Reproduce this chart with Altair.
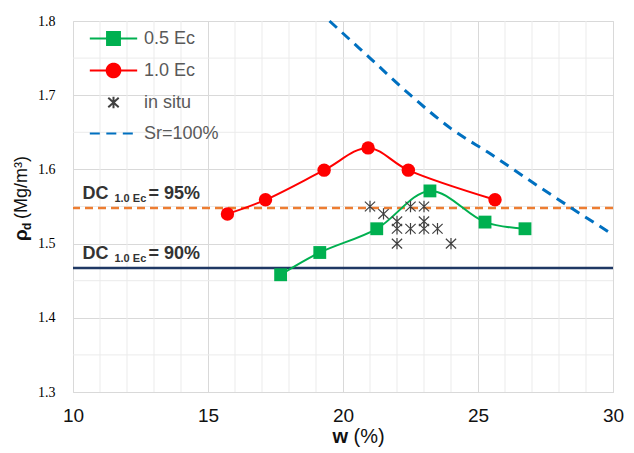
import altair as alt
import pandas as pd

# ---------------- data ----------------
w_05 = [17.69, 19.14, 21.25, 23.22, 25.26, 26.74]
rho_05 = [1.458, 1.488, 1.520, 1.571, 1.529, 1.520]

w_10 = [15.72, 17.13, 19.30, 20.93, 22.42, 25.63]
rho_10 = [1.540, 1.559, 1.599, 1.629, 1.599, 1.559]

w_situ = [21.0, 21.5, 22.0, 22.0, 22.0, 22.5, 22.5, 23.0, 23.0, 23.0, 23.5, 24.0]
rho_situ = [1.55, 1.54, 1.53, 1.52, 1.50, 1.55, 1.52, 1.55, 1.53, 1.52, 1.52, 1.50]

w_sr = [19.5, 21.0, 22.5, 24.0, 25.5, 27.0, 28.5, 30.0]
rho_sr = [1.800, 1.750, 1.700, 1.655, 1.620, 1.583, 1.547, 1.512]

dc_values = [1.548, 1.467]
dc_pct = ["= 95%", "= 90%"]
dc_main = "DC"
dc_sub = "1.0 Ec"

series_names = ["0.5 Ec", "1.0 Ec", "in situ", "Sr=100%"]

x_ticks = [10, 15, 20, 25, 30]
y_ticks = [1.3, 1.4, 1.5, 1.6, 1.7, 1.8]
x_minor = [11, 12, 13, 14, 16, 17, 18, 19, 21, 22, 23, 24, 26, 27, 28, 29]
y_minor = [1.35, 1.45, 1.55, 1.65, 1.75]

x_title_main = "w"
x_title_unit = "(%)"
y_title_main = "ρ"
y_title_sub = "d"
y_title_unit = "(Mg/m³)"

# ---------------- styling ----------------
W, H = 540, 371
GREEN = "#00B050"
RED = "#FF0000"
GRAY = "#404040"
BLUE = "#0070C0"
ORANGE = "#ED7D31"
NAVY = "#1F3864"
ASTER = "M-0.9,-0.85L0.9,0.85M-0.9,0.85L0.9,-0.85M0,-1L0,1"

xs = alt.Scale(domain=[10, 30], nice=False, zero=False)
ys = alt.Scale(domain=[1.3, 1.8], nice=False, zero=False)
x_axis = alt.Axis(values=x_ticks, grid=True, gridColor="#d9d9d9", ticks=False, domain=False,
                  labelFont="Liberation Sans", labelFontSize=19, labelColor="#111111",
                  labelPadding=14, labelFlush=False, title=None)
y_axis = alt.Axis(values=y_ticks, grid=True, gridColor="#d9d9d9", ticks=False, domain=False,
                  labelFont="Liberation Serif", labelFontSize=14, labelColor="#000000",
                  labelPadding=18, format=".1f", title=None)


def X(f):
    return alt.X(f, type="quantitative", scale=xs, axis=x_axis)


def Y(f):
    return alt.Y(f, type="quantitative", scale=ys, axis=y_axis)


df05 = pd.DataFrame({"w": w_05, "rho": rho_05})
df10 = pd.DataFrame({"w": w_10, "rho": rho_10})
dfs = pd.DataFrame({"w": w_situ, "rho": rho_situ})
dfsr = pd.DataFrame({"w": w_sr, "rho": rho_sr})
dfdc = pd.DataFrame({"dc": dc_values, "pct": dc_pct, "main": [dc_main] * 2, "sub": [dc_sub] * 2})
dfxm = pd.DataFrame({"w": x_minor})
dfym = pd.DataFrame({"rho": y_minor})

grid_x = alt.Chart(dfxm).mark_rule(color="#ebebeb", strokeWidth=1).encode(x=X("w"))
grid_y = alt.Chart(dfym).mark_rule(color="#ebebeb", strokeWidth=1).encode(y=Y("rho"))

dc95 = alt.Chart(dfdc.iloc[[0]]).mark_rule(color=ORANGE, strokeWidth=2.5, strokeDash=[8, 5]).encode(y=Y("dc"))
dc90 = alt.Chart(dfdc.iloc[[1]]).mark_rule(color=NAVY, strokeWidth=2.5).encode(y=Y("dc"))

sr_line = alt.Chart(dfsr).mark_line(color=BLUE, strokeWidth=3, strokeDash=[10, 7],
                                     interpolate="monotone").encode(x=X("w"), y=Y("rho"))

l05 = alt.Chart(df05).mark_line(color=GREEN, strokeWidth=2, interpolate="catmull-rom").encode(x=X("w"), y=Y("rho"))
p05 = alt.Chart(df05).mark_point(shape="square", filled=True, color=GREEN, size=165, opacity=1).encode(x=X("w"), y=Y("rho"))
l10 = alt.Chart(df10).mark_line(color=RED, strokeWidth=2, interpolate="catmull-rom").encode(x=X("w"), y=Y("rho"))
p10 = alt.Chart(df10).mark_point(shape="circle", filled=True, color=RED, size=180, opacity=1).encode(x=X("w"), y=Y("rho"))
psitu = alt.Chart(dfs).mark_point(shape=ASTER, filled=False, color=GRAY, size=130, strokeWidth=1.2,
                                  opacity=1).encode(x=X("w"), y=Y("rho"))

txt_common = dict(font="Liberation Sans", fontWeight="bold", color="#333333", align="left", baseline="alphabetic")
t_main = alt.Chart(dfdc).mark_text(fontSize=18, dy=-9, **txt_common).encode(
    x=alt.X(datum=10.35, scale=xs, axis=x_axis), y=Y("dc"), text="main:N")
t_sub = alt.Chart(dfdc).mark_text(fontSize=11, dx=32, dy=-6, **txt_common).encode(
    x=alt.X(datum=10.35, scale=xs, axis=x_axis), y=Y("dc"), text="sub:N")
t_pct = alt.Chart(dfdc).mark_text(fontSize=18, dx=66, dy=-9, **txt_common).encode(
    x=alt.X(datum=10.35, scale=xs, axis=x_axis), y=Y("dc"), text="pct:N")

# axis titles (mixed weight / sub-superscript)
xt1 = alt.Chart(pd.DataFrame({"t": [x_title_main]})).mark_text(
    font="Liberation Sans", fontWeight="bold", fontSize=20, color="#111111", align="left",
    baseline="alphabetic").encode(x=alt.value(259.5), y=alt.value(422), text="t:N")
xt2 = alt.Chart(pd.DataFrame({"t": [x_title_unit]})).mark_text(
    font="Liberation Sans", fontSize=20, color="#111111", align="left", dx=21,
    baseline="alphabetic").encode(x=alt.value(259.5), y=alt.value(422), text="t:N")
yt1 = alt.Chart(pd.DataFrame({"t": [y_title_main]})).mark_text(
    font="Liberation Sans", fontWeight="bold", fontSize=19, color="#111111", align="left", angle=270,
    baseline="alphabetic").encode(x=alt.value(-46), y=alt.value(220), text="t:N")
yt2 = alt.Chart(pd.DataFrame({"t": [y_title_sub]})).mark_text(
    font="Liberation Sans", fontWeight="bold", fontSize=12, color="#111111", align="left", angle=270,
    dx=11, dy=4, baseline="alphabetic").encode(x=alt.value(-46), y=alt.value(220), text="t:N")
yt3 = alt.Chart(pd.DataFrame({"t": [y_title_unit]})).mark_text(
    font="Liberation Sans", fontSize=18, color="#111111", align="left", angle=270,
    dx=22, baseline="alphabetic").encode(x=alt.value(-46), y=alt.value(220), text="t:N")

# legend (driven by a legend-only layer)
leg_paths = [
    "M-2.5,0H2.5M-0.68,-0.68H0.68V0.68H-0.68Z",
    "M-2.5,0H2.5M0.72,0A0.72,0.72 0 1,1 -0.72,0A0.72,0.72 0 1,1 0.72,0Z",
    "M-0.55,-0.5L0.55,0.5M-0.55,0.5L0.55,-0.5M0,-0.6V0.6",
    "M-2.5,0H2.5",
]
leg = alt.Legend(title=None, orient="none", legendX=30, legendY=7, symbolSize=359,
                 labelFont="Liberation Sans", labelFontSize=18, labelColor="#595959",
                 rowPadding=10, labelOffset=20, padding=0)
dom = series_names
leg_layer = alt.Chart(pd.DataFrame({"series": series_names})).mark_point(
    filled=True, opacity=1, clip=True).encode(
    x=alt.value(-300), y=alt.value(-300),
    fill=alt.Fill("series:N", scale=alt.Scale(domain=dom, range=[GREEN, RED, GRAY, BLUE]), legend=leg),
    stroke=alt.Stroke("series:N", scale=alt.Scale(domain=dom, range=[GREEN, RED, GRAY, BLUE]), legend=leg),
    shape=alt.Shape("series:N", scale=alt.Scale(domain=dom, range=leg_paths), legend=leg),
    strokeDash=alt.StrokeDash("series:N", scale=alt.Scale(domain=dom, range=[[1, 0], [1, 0], [1, 0], [10, 6.5]]), legend=leg),
    strokeWidth=alt.StrokeWidth("series:N", scale=alt.Scale(domain=dom, range=[2, 2, 1, 3]), legend=leg),
)

chart = alt.layer(
    grid_x, grid_y, dc95, dc90, sr_line, l05, l10, p05, p10, psitu,
    t_main, t_sub, t_pct, xt1, xt2, yt1, yt2, yt3, leg_layer,
).properties(
    width=W, height=H,
    autosize=alt.AutoSizeParams(type="none"),
    padding={"left": 73, "top": 21, "right": 21, "bottom": 61},
).configure_view(stroke="#d9d9d9", strokeWidth=1).configure(background="white")

chart.save("out.html", embed_options={"renderer": "svg", "actions": False})
